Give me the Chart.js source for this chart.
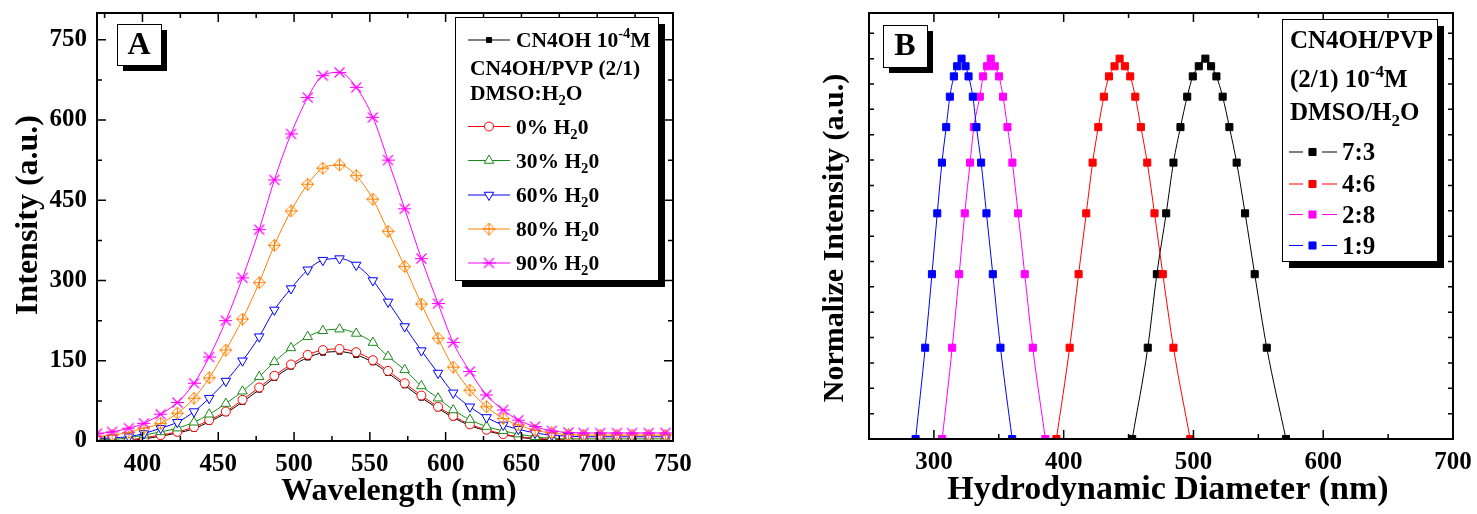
<!DOCTYPE html>
<html>
<head>
<meta charset="utf-8">
<script src="https://cdn.jsdelivr.net/npm/chart.js@4.4.1/dist/chart.umd.min.js"></script>
<style>
  body { margin: 0; background: #fff; }
  #wrapA { position: absolute; left: 0; top: 0; width: 740px; height: 514px; }
  #wrapB { position: absolute; left: 740px; top: 0; width: 737px; height: 514px; }
</style>
</head>
<body>
<div id="wrapA"><canvas id="chartA"></canvas></div>
<div id="wrapB"><canvas id="chartB"></canvas></div>
<script>
// ---- panel A: emission spectra ----
const wavelength = [370, 380, 391, 401, 412, 423, 434, 444, 455, 466, 477, 487, 498, 509, 519, 530, 541, 552,
  562, 573, 584, 595, 605, 616, 627, 638, 648, 659, 670, 681, 691, 702, 713, 723, 734, 745];
const intCN4OH = [0, 0, 1, 4, 9, 15, 23, 36, 52, 73, 96, 118, 139, 156, 165, 167, 161, 147,
  127, 104, 81, 61, 44, 29, 19, 12, 7, 4, 2, 1, 0, 0, 0, 0, 0, 0];
const int0 = [1, 1, 2, 6, 11, 17, 26, 39, 55, 77, 100, 122, 143, 161, 170, 172, 166, 151,
  131, 108, 85, 64, 47, 31, 21, 13, 8, 5, 3, 2, 1, 1, 1, 1, 1, 1];
const int30 = [2, 3, 6, 11, 17, 24, 35, 50, 70, 93, 120, 148, 174, 195, 206, 209, 201, 184,
  158, 133, 103, 80, 58, 40, 27, 19, 13, 8, 5, 4, 4, 4, 4, 4, 4, 4];
const int60 = [4, 6, 8, 14, 24, 35, 55, 80, 112, 150, 195, 245, 285, 320, 338, 341, 329, 300,
  260, 214, 169, 127, 90, 64, 44, 30, 22, 15, 11, 9, 8, 8, 8, 8, 8, 8];
const int80 = [8, 11, 16, 24, 33, 52, 80, 118, 170, 228, 296, 366, 430, 480, 510, 516, 496, 452,
  392, 326, 256, 192, 138, 95, 64, 42, 30, 20, 15, 12, 11, 11, 11, 11, 11, 11];
const int90 = [14, 17, 24, 33, 50, 72, 108, 157, 225, 305, 395, 488, 574, 642, 683, 689, 661, 605,
  525, 434, 341, 257, 184, 130, 86, 58, 39, 27, 19, 16, 15, 15, 15, 15, 15, 15];
const xTicksA = [400, 450, 500, 550, 600, 650, 700, 750];
const yTicksA = [0, 150, 300, 450, 600, 750];

// ---- panel B: size distributions ----
const normIntensity = [0, 3.6, 6.5, 8.9, 10.9, 12.3, 13.5, 14.3, 14.7, 15.0, 14.7, 14.3, 13.5, 12.3, 10.9, 8.9, 6.5, 3.6, 0];
const diam73 = [452.8, 464.8, 471.8, 479.0, 484.6, 490.0, 495.2, 499.5, 504.1, 509.2, 513.6, 517.7, 522.5, 527.7, 533.3, 539.8, 547.2, 556.5, 571.3];
const diam46 = [394.4, 404.6, 411.5, 417.4, 422.3, 426.7, 431.0, 434.9, 439.2, 443.1, 447.2, 451.3, 455.2, 459.5, 464.4, 470.0, 476.4, 484.6, 497.5];
const diam28 = [306.4, 314.1, 319.5, 323.8, 327.9, 330.8, 335.4, 337.9, 341.0, 343.8, 346.9, 350.2, 353.3, 356.7, 360.5, 364.9, 370.0, 376.2, 385.9];
const diam19 = [285.9, 293.3, 298.5, 302.6, 306.2, 309.5, 312.3, 315.4, 317.9, 321.3, 324.4, 326.7, 330.0, 332.8, 336.4, 340.5, 345.4, 351.3, 360.3];
const xTicksB = [300, 400, 500, 600, 700];

const FONT = "'Liberation Serif', 'Times New Roman', serif";
Chart.defaults.font.family = FONT;
Chart.defaults.font.weight = 'bold';
Chart.defaults.color = '#000';

function pts(xs, ys) {
  return xs.map((x, i) => ({ x: x, y: ys[i] }));
}

// marker images that Chart.js has no built-in style for
function diamondPlus(color) {
  const c = document.createElement('canvas');
  c.width = 13; c.height = 13;
  const g = c.getContext('2d');
  g.strokeStyle = color; g.lineWidth = 1;
  g.beginPath();
  g.moveTo(6.5, 0.5); g.lineTo(12.5, 6.5); g.lineTo(6.5, 12.5); g.lineTo(0.5, 6.5); g.closePath();
  g.moveTo(6.5, 0.5); g.lineTo(6.5, 12.5);
  g.moveTo(0.5, 6.5); g.lineTo(12.5, 6.5);
  g.stroke();
  return c;
}
function starX(color) {
  const c = document.createElement('canvas');
  c.width = 13; c.height = 13;
  const g = c.getContext('2d');
  g.strokeStyle = color; g.lineWidth = 1.2;
  g.beginPath();
  g.moveTo(1.5, 1.5); g.lineTo(11.5, 11.5);
  g.moveTo(11.5, 1.5); g.lineTo(1.5, 11.5);
  g.moveTo(0, 6.5); g.lineTo(13, 6.5);
  g.stroke();
  return c;
}

// text with ^{sup} and _{sub}
function drawRich(ctx, str, x, y, size) {
  const parts = str.split(/([\^_]\{[^}]*\})/);
  let cx = x;
  parts.forEach(p => {
    if (!p) return;
    let s = size, dy = 0, t = p;
    if (p[0] === '^' && p[1] === '{') { t = p.slice(2, -1); s = size * 0.68; dy = -size * 0.42; }
    else if (p[0] === '_' && p[1] === '{') { t = p.slice(2, -1); s = size * 0.68; dy = size * 0.25; }
    ctx.font = 'bold ' + s + 'px ' + FONT;
    ctx.fillText(t, cx, y + dy);
    cx += ctx.measureText(t).width;
  });
}

// inward ticks on all four sides plus the frame
const frameTicks = {
  id: 'frameTicks',
  afterDatasetsDraw(chart, args, o) {
    const { ctx, chartArea: a, scales } = chart;
    ctx.save();
    ctx.strokeStyle = '#000';
    ctx.lineWidth = 1.5;
    const marks = (scale, step, major) => {
      const out = [];
      for (let k = Math.ceil(scale.min / step); k <= Math.floor(scale.max / step); k++) {
        const v = k * step;
        const isMajor = major ? Math.abs(v / major - Math.round(v / major)) < 1e-6 : false;
        out.push({ p: scale.getPixelForValue(v), major: isMajor });
      }
      return out;
    };
    ctx.beginPath();
    marks(scales.x, o.xStep, o.xMajor).forEach(m => {
      if (m.p <= a.left + 1 || m.p >= a.right - 1) return;
      const len = m.major ? 9 : 5;
      ctx.moveTo(m.p, a.bottom); ctx.lineTo(m.p, a.bottom - len);
      ctx.moveTo(m.p, a.top); ctx.lineTo(m.p, a.top + len);
    });
    marks(scales.y, o.yStep, o.yMajor).forEach(m => {
      if (m.p <= a.top + 1 || m.p >= a.bottom - 1) return;
      const len = m.major ? 9 : 5;
      ctx.moveTo(a.left, m.p); ctx.lineTo(a.left + len, m.p);
      ctx.moveTo(a.right, m.p); ctx.lineTo(a.right - len, m.p);
    });
    ctx.stroke();
    ctx.lineWidth = 2;
    ctx.strokeRect(a.left, a.top, a.right - a.left, a.bottom - a.top);
    ctx.restore();
  }
};

// boxed legend, panel letter, axis titles
const decor = {
  id: 'decor',
  afterDraw(chart, args, o) {
    const ctx = chart.ctx;
    ctx.save();
    // panel letter box
    const L = o.letter;
    ctx.fillStyle = '#000';
    ctx.fillRect(L.x + 6, L.y + 6, L.w, L.h);
    ctx.fillStyle = '#fff';
    ctx.fillRect(L.x, L.y, L.w, L.h);
    ctx.strokeStyle = '#000'; ctx.lineWidth = 1;
    ctx.strokeRect(L.x + 0.5, L.y + 0.5, L.w, L.h);
    ctx.fillStyle = '#000';
    ctx.font = 'bold 32px ' + FONT;
    ctx.textAlign = 'center'; ctx.textBaseline = 'middle';
    ctx.fillText(L.text, L.x + L.w / 2, L.y + L.h / 2 + 1);

    // legend box
    const B = o.legend;
    ctx.fillStyle = '#000';
    ctx.fillRect(B.x + 7, B.y + 7, B.w, B.h);
    ctx.fillStyle = '#fff';
    ctx.fillRect(B.x, B.y, B.w, B.h);
    ctx.strokeStyle = '#000';
    ctx.strokeRect(B.x + 0.5, B.y + 0.5, B.w, B.h);
    ctx.textAlign = 'left'; ctx.textBaseline = 'alphabetic';
    B.rows.forEach(r => {
      const base = r.y + B.size * 0.33;
      if (r.ds === undefined) {
        ctx.fillStyle = '#000';
        drawRich(ctx, r.text, B.headX, base, B.size);
        return;
      }
      const ds = chart.data.datasets[r.ds];
      ctx.save();
      ctx.strokeStyle = ds.borderColor;
      ctx.lineWidth = 1;
      ctx.beginPath();
      B.segs.forEach(s => { ctx.moveTo(s[0], r.y); ctx.lineTo(s[1], r.y); });
      ctx.stroke();
      ctx.restore();
      ctx.save();
      ctx.fillStyle = ds.pointBackgroundColor;
      ctx.strokeStyle = ds.pointBorderColor;
      Chart.helpers.drawPoint(ctx, {
        pointStyle: ds.pointStyle, radius: ds.pointRadius,
        rotation: ds.pointRotation || 0, borderWidth: ds.pointBorderWidth
      }, B.markX, r.y);
      ctx.restore();
      ctx.fillStyle = '#000';
      drawRich(ctx, ds.label, B.textX, base, B.size);
    });

    // axis titles
    ctx.fillStyle = '#000';
    ctx.textAlign = 'center'; ctx.textBaseline = 'middle';
    o.titles.forEach(t => {
      ctx.save();
      ctx.font = 'bold ' + t.size + 'px ' + FONT;
      ctx.translate(t.x, t.y);
      if (t.rot) ctx.rotate(-Math.PI / 2);
      ctx.fillText(t.text, 0, 0);
      ctx.restore();
    });
    ctx.restore();
  }
};

function lineSet(label, xs, ys, color, style, radius, filled, order, extra) {
  return Object.assign({
    label: label,
    data: pts(xs, ys),
    borderColor: color,
    borderWidth: 1,
    pointStyle: style,
    pointRadius: radius,
    pointBorderWidth: 1,
    pointBorderColor: color,
    pointBackgroundColor: filled ? color : '#fff',
    cubicInterpolationMode: 'monotone',
    order: order
  }, extra || {});
}

const tickFont = { size: 25, weight: 'bold' };

new Chart(document.getElementById('chartA'), {
  type: 'line',
  data: {
    datasets: [
      lineSet('CN4OH 10^{-4}M', wavelength, intCN4OH, '#000000', 'rect', 3.5, true, 5),
      lineSet('0% H_{2}0', wavelength, int0, '#ff0000', 'circle', 4.5, false, 4),
      lineSet('30% H_{2}0', wavelength, int30, '#1a8a1a', 'triangle', 5.5, false, 3),
      lineSet('60% H_{2}0', wavelength, int60, '#0000ff', 'triangle', 5.5, false, 2, { pointRotation: 180 }),
      lineSet('80% H_{2}0', wavelength, int80, '#ff8000', diamondPlus('#ff8000'), 6, false, 1),
      lineSet('90% H_{2}0', wavelength, int90, '#ff00ff', starX('#ff00ff'), 6, false, 0)
    ]
  },
  options: {
    responsive: true,
    maintainAspectRatio: false,
    animation: false,
    events: [],
    layout: { padding: { left: 0, top: 13, right: 67, bottom: 0 } },
    scales: {
      x: {
        type: 'linear', min: 370, max: 750,
        afterFit(s) { s.height = 73; s.paddingLeft = 0; s.paddingRight = 0; },
        afterBuildTicks(s) { s.ticks = xTicksA.map(v => ({ value: v })); },
        grid: { display: false, drawTicks: false },
        border: { display: false },
        ticks: { padding: 9, font: tickFont, maxRotation: 0, autoSkip: false }
      },
      y: {
        min: 0, max: 800,
        afterFit(s) { s.width = 97; s.paddingTop = 0; s.paddingBottom = 0; },
        afterBuildTicks(s) { s.ticks = yTicksA.map(v => ({ value: v })); },
        grid: { display: false, drawTicks: false },
        border: { display: false },
        ticks: { padding: 10, font: tickFont }
      }
    },
    plugins: {
      legend: { display: false },
      tooltip: { enabled: false },
      frameTicks: { xStep: 25, xMajor: 50, yStep: 75, yMajor: 150 },
      decor: {
        letter: { text: 'A', x: 117, y: 24, w: 44, h: 41 },
        legend: {
          x: 455, y: 17, w: 203, h: 263, size: 21.5,
          headX: 470, textX: 516, markX: 489, segs: [[468, 510]],
          rows: [
            { ds: 0, y: 40 },
            { text: 'CN4OH/PVP (2/1)', y: 67.5 },
            { text: 'DMSO:H_{2}O', y: 92.5 },
            { ds: 1, y: 126.5 },
            { ds: 2, y: 160.5 },
            { ds: 3, y: 195 },
            { ds: 4, y: 229 },
            { ds: 5, y: 263 }
          ]
        },
        titles: [
          { text: 'Intensity (a.u.)', x: 29, y: 215, rot: true, size: 32 },
          { text: 'Wavelength (nm)', x: 399, y: 492, size: 32 }
        ]
      }
    }
  },
  plugins: [frameTicks, decor]
});

new Chart(document.getElementById('chartB'), {
  type: 'line',
  data: {
    datasets: [
      lineSet('7:3', diam73, normIntensity, '#000000', 'rect', 5, true, 3, { tension: 0 }),
      lineSet('4:6', diam46, normIntensity, '#ff0000', 'rect', 5, true, 2, { tension: 0 }),
      lineSet('2:8', diam28, normIntensity, '#ff00ff', 'rect', 5, true, 1, { tension: 0 }),
      lineSet('1:9', diam19, normIntensity, '#0000ff', 'rect', 5, true, 0, { tension: 0 })
    ]
  },
  options: {
    responsive: true,
    maintainAspectRatio: false,
    animation: false,
    events: [],
    layout: { padding: { left: 0, top: 13, right: 24, bottom: 0 } },
    scales: {
      x: {
        type: 'linear', min: 250, max: 700,
        afterFit(s) { s.height = 75; s.paddingLeft = 0; s.paddingRight = 0; },
        afterBuildTicks(s) { s.ticks = xTicksB.map(v => ({ value: v })); },
        grid: { display: false, drawTicks: false },
        border: { display: false },
        ticks: { padding: 9, font: tickFont, maxRotation: 0, autoSkip: false }
      },
      y: {
        min: 0, max: 16.8,
        afterFit(s) { s.width = 129; s.paddingTop = 0; s.paddingBottom = 0; },
        grid: { display: false, drawTicks: false },
        border: { display: false },
        ticks: { display: false }
      }
    },
    plugins: {
      legend: { display: false },
      tooltip: { enabled: false },
      frameTicks: { xStep: 50, xMajor: 100, yStep: 1, yMajor: 0 },
      decor: {
        letter: { text: 'B', x: 143, y: 25, w: 44, h: 42 },
        legend: {
          x: 542, y: 19, w: 155, h: 242, size: 25,
          headX: 550, textX: 602, markX: 572.5, segs: [[549, 563], [582, 597]],
          rows: [
            { text: 'CN4OH/PVP', y: 40 },
            { text: '(2/1) 10^{-4}M', y: 79 },
            { text: 'DMSO/H_{2}O', y: 111.5 },
            { ds: 0, y: 152 },
            { ds: 1, y: 184 },
            { ds: 2, y: 214.5 },
            { ds: 3, y: 245.5 }
          ]
        },
        titles: [
          { text: 'Normalize Intensity (a.u.)', x: 95, y: 238, rot: true, size: 30 },
          { text: 'Hydrodynamic Diameter (nm)', x: 428, y: 490, size: 34 }
        ]
      }
    }
  },
  plugins: [frameTicks, decor]
});
</script>
</body>
</html>
